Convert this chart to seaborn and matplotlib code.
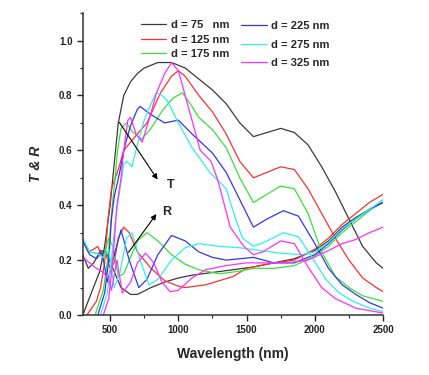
import pandas as pd
import numpy as np
import matplotlib.pyplot as plt
import seaborn as sns
from matplotlib.ticker import MultipleLocator
from matplotlib.lines import Line2D

# Transmittance (T) curves
t75_wl = [300, 370, 425, 460, 500, 530, 560, 600, 650, 700, 750, 850, 950, 1050, 1150, 1250,
          1350, 1450, 1550, 1650, 1750, 1850, 1950, 2050, 2150, 2250, 2350, 2450, 2500]
t75 = [0.0, 0.09, 0.16, 0.25, 0.40, 0.55, 0.70, 0.80, 0.85, 0.88, 0.90, 0.92, 0.92, 0.90, 0.86, 0.82,
       0.77, 0.70, 0.65, 0.665, 0.68, 0.665, 0.62, 0.54, 0.45, 0.35, 0.25, 0.19, 0.17]

t125_wl = [330, 400, 430, 460, 485, 510, 560, 600, 700, 770, 870, 950, 1000, 1050, 1150, 1250,
           1350, 1450, 1550, 1650, 1750, 1850, 1950, 2050, 2150, 2250, 2350, 2450, 2500]
t125 = [0.0, 0.05, 0.10, 0.19, 0.35, 0.46, 0.53, 0.60, 0.66, 0.70, 0.81, 0.87, 0.89, 0.87, 0.80, 0.74,
        0.66, 0.56, 0.50, 0.52, 0.54, 0.53, 0.46, 0.37, 0.28, 0.20, 0.135, 0.10, 0.085]

t175_wl = [390, 450, 485, 510, 535, 555, 580, 620, 660, 730, 800, 890, 960, 1030, 1100, 1150, 1250,
           1350, 1450, 1550, 1650, 1750, 1850, 1950, 2050, 2150, 2250, 2350, 2500]
t175 = [0.0, 0.09, 0.21, 0.37, 0.49, 0.60, 0.68, 0.70, 0.67, 0.64, 0.68, 0.75, 0.79, 0.81, 0.76, 0.72, 0.675,
        0.61, 0.50, 0.41, 0.44, 0.47, 0.46, 0.37, 0.23, 0.14, 0.10, 0.07, 0.05]

t225_wl = [410, 460, 490, 510, 530, 570, 610, 650, 700, 720, 800, 900, 1000, 1100, 1250, 1350, 1450,
           1550, 1650, 1770, 1880, 2000, 2100, 2200, 2300, 2400, 2500]
t225 = [0.0, 0.08, 0.20, 0.35, 0.43, 0.52, 0.62, 0.69, 0.75, 0.76, 0.73, 0.70, 0.71, 0.66, 0.59, 0.52, 0.42,
        0.32, 0.35, 0.38, 0.36, 0.26, 0.17, 0.11, 0.075, 0.045, 0.025]

t275_wl = [430, 480, 510, 540, 570, 600, 620, 660, 700, 750, 800, 840, 880, 920, 1000, 1100, 1230, 1350,
           1420, 1470, 1550, 1650, 1770, 1880, 1980, 2080, 2180, 2280, 2400, 2500]
t275 = [0.0, 0.08, 0.20, 0.35, 0.45, 0.55, 0.56, 0.54, 0.62, 0.71, 0.77, 0.81, 0.80, 0.78, 0.70, 0.61, 0.52, 0.46,
        0.35, 0.28, 0.25, 0.27, 0.30, 0.285, 0.21, 0.13, 0.08, 0.05, 0.025, 0.012]

t325_wl = [450, 490, 520, 550, 580, 600, 630, 650, 690, 735, 790, 840, 900, 950, 1000, 1050, 1100, 1160,
           1240, 1290, 1380, 1480, 1550, 1620, 1750, 1850, 1950, 2050, 2150, 2300, 2500]
t325 = [0.0, 0.06, 0.20, 0.40, 0.50, 0.60, 0.71, 0.72, 0.66, 0.63, 0.72, 0.81, 0.88, 0.92, 0.89, 0.80, 0.71, 0.60,
        0.56, 0.49, 0.32, 0.25, 0.22, 0.23, 0.27, 0.26, 0.175, 0.10, 0.06, 0.025, 0.007]

# Reflectance (R) curves
r75_wl = [300, 340, 380, 430, 470, 520, 580, 650, 700, 800, 900, 1000, 1100, 1250, 1400, 1550, 1700,
          1850, 2000, 2100, 2200, 2300, 2400, 2500]
r75 = [0.22, 0.17, 0.19, 0.235, 0.23, 0.17, 0.10, 0.075, 0.075, 0.10, 0.12, 0.135, 0.145, 0.155, 0.165, 0.175,
       0.19, 0.205, 0.235, 0.27, 0.32, 0.355, 0.385, 0.41]

r125_wl = [300, 340, 380, 410, 440, 470, 500, 530, 560, 600, 640, 700, 800, 900, 1000, 1050, 1200, 1300,
           1400, 1500, 1600, 1700, 1850, 2000, 2100, 2200, 2300, 2400, 2500]
r125 = [0.27, 0.23, 0.24, 0.25, 0.215, 0.22, 0.17, 0.19, 0.28, 0.32, 0.30, 0.23, 0.17, 0.125, 0.105, 0.10, 0.11, 0.125,
        0.14, 0.17, 0.18, 0.19, 0.20, 0.24, 0.28, 0.33, 0.37, 0.41, 0.44]

r175_wl = [300, 350, 400, 450, 490, 520, 560, 600, 650, 700, 770, 850, 950, 1050, 1150, 1300, 1450, 1550,
           1700, 1850, 2000, 2100, 2200, 2300, 2400, 2500]
r175 = [0.27, 0.23, 0.225, 0.21, 0.28, 0.25, 0.14, 0.15, 0.21, 0.27, 0.30, 0.27, 0.22, 0.185, 0.165, 0.15, 0.16, 0.17,
        0.17, 0.18, 0.215, 0.25, 0.30, 0.34, 0.38, 0.42]

r225_wl = [300, 350, 400, 440, 480, 520, 580, 640, 710, 770, 850, 950, 1050, 1150, 1250, 1350, 1450, 1550,
           1700, 1850, 2000, 2100, 2200, 2300, 2400, 2500]
r225 = [0.27, 0.22, 0.205, 0.23, 0.12, 0.20, 0.31, 0.20, 0.10, 0.13, 0.22, 0.29, 0.27, 0.23, 0.21, 0.20, 0.205, 0.21,
        0.19, 0.19, 0.22, 0.26, 0.31, 0.35, 0.385, 0.41]

r275_wl = [300, 350, 400, 450, 490, 530, 570, 620, 660, 720, 785, 850, 950, 1050, 1150, 1300, 1450, 1600,
           1750, 1900, 2000, 2100, 2200, 2300, 2400, 2500]
r275 = [0.28, 0.23, 0.225, 0.21, 0.24, 0.10, 0.15, 0.28, 0.30, 0.20, 0.11, 0.13, 0.20, 0.245, 0.26, 0.25, 0.245, 0.235,
        0.225, 0.22, 0.23, 0.265, 0.315, 0.35, 0.385, 0.42]

r325_wl = [300, 350, 400, 450, 490, 510, 550, 590, 650, 700, 760, 820, 880, 940, 1000, 1100, 1200, 1350,
           1500, 1650, 1800, 1950, 2100, 2200, 2300, 2400, 2500]
r325 = [0.21, 0.19, 0.17, 0.155, 0.13, 0.09, 0.20, 0.08, 0.12, 0.19, 0.225, 0.19, 0.12, 0.085, 0.09, 0.135, 0.165, 0.18,
        0.19, 0.19, 0.19, 0.20, 0.235, 0.26, 0.275, 0.30, 0.32]

labels = ["d = 75   nm", "d = 125 nm", "d = 175 nm", "d = 225 nm", "d = 275 nm", "d = 325 nm"]
colors = ["#3a3a3a", "#ff3030", "#3be03b", "#3535e8", "#30f0f0", "#ff30ff"]

T_curves = [(t75_wl, t75), (t125_wl, t125), (t175_wl, t175), (t225_wl, t225), (t275_wl, t275), (t325_wl, t325)]
R_curves = [(r75_wl, r75), (r125_wl, r125), (r175_wl, r175), (r225_wl, r225), (r275_wl, r275), (r325_wl, r325)]

sns.set_style("ticks")
plt.rcParams['font.family'] = ['Liberation Sans', 'DejaVu Sans']
plt.rcParams['font.weight'] = 'bold'

fig = plt.figure(figsize=(4.29, 3.75), dpi=100)
ax = fig.add_axes([0.193, 0.16, 0.700, 0.805])

for (tw, tv), (rw, rv), col in zip(T_curves, R_curves, colors):
    dft = pd.DataFrame({'wl': tw, 'val': tv})
    dfr = pd.DataFrame({'wl': rw, 'val': rv})
    sns.lineplot(data=dft, x='wl', y='val', color=col, linewidth=0.9, ax=ax, estimator=None)
    sns.lineplot(data=dfr, x='wl', y='val', color=col, linewidth=0.9, ax=ax, estimator=None)

ax.set_xlim(300, 2500)
ax.set_ylim(0, 1.1)
ax.xaxis.set_major_locator(MultipleLocator(500))
ax.xaxis.set_minor_locator(MultipleLocator(250))
ax.yaxis.set_major_locator(MultipleLocator(0.2))
ax.yaxis.set_minor_locator(MultipleLocator(0.1))
ax.set_xticks([500, 1000, 1500, 2000, 2500])
ax.set_yticks([0.0, 0.2, 0.4, 0.6, 0.8, 1.0])
ax.set_yticklabels(["0.0", "0.2", "0.4", "0.6", "0.8", "1.0"])
ax.tick_params(which='major', direction='out', length=4, width=1, labelsize=7, colors='#222222')
ax.tick_params(which='minor', direction='out', length=2.5, width=0.8, colors='#222222')
for lab in ax.get_xticklabels() + ax.get_yticklabels():
    lab.set_fontweight('bold')
sns.despine(ax=ax)
for s in ['left', 'bottom']:
    ax.spines[s].set_linewidth(1.1)
    ax.spines[s].set_color('#333333')

ax.set_xlabel("Wavelength (nm)", fontsize=10, fontweight='bold', labelpad=8)
ax.set_ylabel("T & R", fontsize=10, fontweight='bold', style='italic', labelpad=11)

# Arrows with labels
ax.annotate("", xy=(859, 0.485), xytext=(557, 0.71),
            arrowprops=dict(arrowstyle='-|>', color='black', lw=0.8, mutation_scale=8))
ax.text(915, 0.475, "T", fontsize=9, fontweight='bold', va='center', ha='left')
ax.annotate("", xy=(851, 0.376), xytext=(623, 0.22),
            arrowprops=dict(arrowstyle='-|>', color='black', lw=0.8, mutation_scale=8))
ax.text(880, 0.375, "R", fontsize=9, fontweight='bold', va='center', ha='left')

# Legends in two columns
h1 = [Line2D([], [], color=c, lw=0.9) for c in colors[:3]]
h2 = [Line2D([], [], color=c, lw=0.9) for c in colors[3:]]
leg1 = ax.legend(h1, labels[:3], loc='upper left', bbox_to_anchor=(0.17, 1.0), frameon=False,
                 fontsize=8, handlelength=2.3, handletextpad=0.4, labelspacing=0.43, borderaxespad=0.2)
for t in leg1.get_texts():
    t.set_fontweight('bold')
ax.add_artist(leg1)
leg2 = ax.legend(h2, labels[3:], loc='upper left', bbox_to_anchor=(0.505, 0.995), frameon=False,
                 fontsize=8, handlelength=2.3, handletextpad=0.4, labelspacing=0.75, borderaxespad=0.2)
for t in leg2.get_texts():
    t.set_fontweight('bold')

fig.savefig("out.png", dpi=100)
